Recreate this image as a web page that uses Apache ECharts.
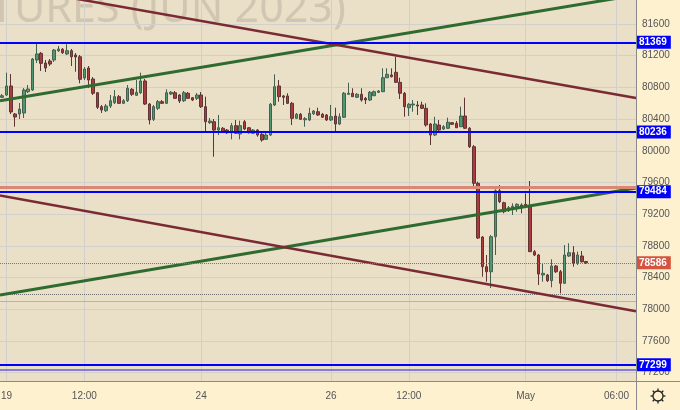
<!DOCTYPE html>
<html><head><meta charset="utf-8">
<script src="https://cdn.jsdelivr.net/npm/echarts@6/dist/echarts.min.js"></script>
<style>html,body{margin:0;padding:0;background:#fdf1d0;}#c{width:680px;height:410px;}</style>
</head><body><div id="c"></div>
<script>
// ---- data ----
const opens = [80675,80704,80818,80464,80464,80477,80746,80767,81146,81230,
81108,81133,81146,81263,81281,81222,81263,81209,81187,80919,
81045,80906,80733,80557,80506,80565,80607,80683,80599,80632,
80776,80700,80733,80881,80590,80397,80536,80620,80599,80717,
80733,80704,80632,80726,80670,80662,80704,80557,80355,80367,
80262,80284,80262,80228,80317,80212,80367,80291,80221,80262,
80208,80145,80199,80578,80818,80692,80692,80599,80410,80461,
80392,80389,80468,80493,80461,80452,80389,80439,80338,80423,
80713,80726,80675,80713,80662,80641,80695,80738,80746,80922,
80957,80991,80864,80726,80544,80578,80578,80578,80536,80338,
80199,80325,80275,80284,80355,80347,80304,80439,80284,80052,
79590,78912,78537,78474,78916,79496,79345,79244,79282,79294,
79316,79325,79294,78727,78685,78433,78433,78361,78546,78474,
78328,78672,78714,78580,78672,78603];
const closes = [80695,80818,80490,80426,80527,80767,80780,81158,81222,81104,
81045,81095,81272,81285,81238,81263,81187,81184,80902,81032,
80893,80726,80549,80515,80565,80632,80683,80599,80632,80789,
80713,80738,80881,80590,80389,80557,80620,80599,80733,80738,
80662,80628,80733,80662,80641,80704,80557,80367,80376,80262,
80291,80241,80228,80317,80221,80317,80275,80228,80262,80199,
80136,80199,80587,80809,80683,80675,80599,80410,80461,80397,
80405,80473,80502,80452,80423,80389,80430,80338,80430,80726,
80726,80683,80713,80641,80641,80738,80746,80755,80922,80965,
80935,80864,80726,80557,80587,80590,80565,80536,80325,80199,
80338,80262,80304,80360,80334,80291,80439,80284,80052,79590,
78899,78537,78474,78916,79496,79358,79231,79282,79300,79325,
79294,79303,78727,78685,78445,78454,78361,78546,78474,78328,
78685,78714,78580,78685,78600,78586];
const lows = [80666,80692,80464,80304,80401,80414,80729,80755,81108,81007,
80994,81070,81121,81247,81222,81209,81070,80998,80852,80893,
80792,80704,80527,80477,80490,80540,80590,80590,80590,80616,
80692,80692,80717,80578,80334,80376,80515,80590,80590,80704,
80654,80603,80616,80654,80628,80641,80540,80241,80338,79925,
80199,80225,80212,80145,80212,80145,80262,80218,80212,80178,
80115,80136,80187,80565,80620,80578,80590,80325,80401,80389,
80304,80376,80452,80439,80414,80376,80376,80250,80325,80414,
80704,80679,80666,80620,80590,80628,80692,80729,80742,80919,
80925,80856,80654,80430,80439,80493,80452,80527,80304,80073,
80187,80250,80262,80275,80325,80288,80300,80275,80035,79530,
78887,78411,78348,78268,78685,79341,79211,79228,79190,79231,
79211,79291,78723,78672,78306,78348,78344,78277,78458,78201,
78319,78660,78537,78559,78590,78571];
const highs = [80717,80986,80969,80477,80603,80792,80830,81171,81364,81247,
81146,81158,81285,81323,81297,81344,81285,81234,81209,81057,
81070,80931,80742,80578,80590,80704,80767,80704,80654,80830,
80792,80893,80986,80906,80603,80578,80641,80641,80776,80755,
80755,80717,80755,80742,80679,80729,80742,80683,80414,80401,
80452,80300,80275,80351,80389,80380,80389,80300,80275,80275,
80225,80250,80603,80965,80893,80704,80726,80616,80477,80477,
80426,80544,80515,80544,80477,80464,80578,80544,80473,80742,
80859,80789,80729,80789,80679,80755,80761,80767,81041,81041,
81041,81187,80922,80742,80603,80641,80628,80620,80599,80351,
80430,80389,80325,80418,80363,80376,80557,80670,80300,80073,
79610,78925,78685,78937,79514,79568,79358,79303,79337,79337,
79337,79463,79619,78748,78698,78580,78445,78631,78559,78496,
78811,78833,78798,78727,78735,78609];

const slotCount = 147;                 // candle slots incl. empty right margin
const xTickIndex = [1, 19, 46, 76, 94, 121, 142];
const xTickText  = ['19', '12:00', '24', '26', '12:00', 'May', '06:00'];
const yTicks = [77200,77600,78000,78400,78800,79200,79600,80000,80400,80800,81200,81600];
const yMin = 77095, yMax = 81903;

const levelLines = [81369, 80236, 79484, 77299];   // blue levels with tags
const lastPrice = 78586;
const salmonLevel = 79536;
const purpleLevel = 77240;
const greenThinLevel = 78105;
const dottedLevel = 78189;

const greenUpper = [[-0.5, 80632], [146.5, 81965]];
const greenLower = [[-0.5, 78180], [146.5, 79530]];
const redUpper   = [[-0.5, 82089], [146.5, 80665]];
const redLower   = [[-0.5, 79435], [146.5, 77974]];

// ---- chart ----
const chart = echarts.init(document.getElementById('c'), null, {renderer: 'canvas'});
const cats = Array.from({length: slotCount}, (_, i) => String(i));
const candles = opens.map((o, i) => [o, closes[i], lows[i], highs[i]]);
const FONT = 'Liberation Sans';

const gear = [];
for (let k = 0; k < 8; k++) {
  const a = k * Math.PI / 4;
  gear.push({type: 'line', shape: {x1: 658 + Math.cos(a) * 5, y1: 396 + Math.sin(a) * 5, x2: 658 + Math.cos(a) * 7.5, y2: 396 + Math.sin(a) * 7.5}, style: {stroke: '#222', lineWidth: 1.3}, silent: true});
}

const option = {
  animation: false,
  backgroundColor: '#fdf1d0',
  grid: {left: 0, top: 0, right: 44, bottom: 29, containLabel: false, outerBoundsMode: 'none'},
  graphic: [
    {type: 'rect', shape: {x: 0, y: 0, width: 636, height: 381}, style: {fill: '#eadfc7'}, z: -10, silent: true},
    {type: 'text', x: -10, y: 10, style: {text: 'TURES (JUN 2023)', font: '43px "Noto Sans"', fill: '#d1c6b1', verticalAlign: 'middle', align: 'left'}, z: -5, silent: true},
    {type: 'line', shape: {x1: 636.5, y1: 0, x2: 636.5, y2: 410}, style: {stroke: '#8a8a8a', lineWidth: 1}, z: 10, silent: true},
    {type: 'line', shape: {x1: 0, y1: 381.5, x2: 680, y2: 381.5}, style: {stroke: '#8a8a8a', lineWidth: 1}, z: 10, silent: true},
    {type: 'circle', shape: {cx: 658, cy: 396, r: 5}, style: {fill: 'none', stroke: '#222', lineWidth: 1.3}, z: 10, silent: true}
  ].concat(gear.map(g => Object.assign(g, {z: 10}))),
  xAxis: [
    {type: 'category', data: cats, boundaryGap: true,
      axisLine: {show: false}, axisTick: {show: false}, splitLine: {show: false},
      axisLabel: {interval: (idx) => xTickIndex.includes(idx), formatter: (v, idx) => {const k = xTickIndex.indexOf(Number(v)); return k >= 0 ? xTickText[k] : '';},
        color: '#555', fontSize: 10, fontFamily: FONT, margin: 10}},
    {type: 'value', min: -0.5, max: 146.5, show: false}
  ],
  yAxis: [{type: 'value', min: yMin, max: yMax, position: 'right', show: true,
    axisLine: {show: false}, axisTick: {show: false}, axisLabel: {show: false}, splitLine: {show: false}}],
  series: [
    {type: 'line', xAxisIndex: 1, data: [], silent: true,
      markLine: {z: 1, silent: true, symbol: ['none', 'none'], animation: false,
        lineStyle: {color: '#d3cfcc', width: 1, type: 'solid'},
        label: {show: false},
        data: xTickIndex.map(i => ({xAxis: i}))}},
    {type: 'line', xAxisIndex: 1, data: [], silent: true,
      markLine: {z: 1, silent: true, symbol: ['none', 'none'], animation: false,
        lineStyle: {color: '#d3cfcc', width: 1, type: 'solid'},
        label: {show: true, position: 'end', distance: 6, formatter: (p) => String(p.value), color: '#555', fontSize: 10, fontFamily: FONT},
        data: yTicks.map(v => ({yAxis: v}))}},
    {type: 'line', xAxisIndex: 1, data: [], silent: true,
      markLine: {z: 2, silent: true, symbol: ['none', 'none'], animation: false, label: {show: false},
        data: [
          {yAxis: greenThinLevel, lineStyle: {color: '#8ccb9a', width: 1, type: 'solid'}},
          {yAxis: dottedLevel, lineStyle: {color: '#6e6e6e', width: 1, type: 'dotted'}}
        ]}},
    {type: 'candlestick', xAxisIndex: 0, data: candles, barWidth: 3, z: 2,
      itemStyle: {color: '#4f9872', color0: '#ab3a3a', borderColor: '#44604f', borderColor0: '#5e3434', borderWidth: 1}},
    {type: 'line', xAxisIndex: 1, data: greenUpper, symbol: 'none', z: 3, clip: true, lineStyle: {color: '#2f6a2f', width: 3}},
    {type: 'line', xAxisIndex: 1, data: greenLower, symbol: 'none', z: 3, clip: true, lineStyle: {color: '#2f6a2f', width: 3}},
    {type: 'line', xAxisIndex: 1, data: redUpper, symbol: 'none', z: 3, clip: true, lineStyle: {color: '#7a2a33', width: 2.5}},
    {type: 'line', xAxisIndex: 1, data: redLower, symbol: 'none', z: 3, clip: true, lineStyle: {color: '#7a2a33', width: 2.5}},
    {type: 'line', xAxisIndex: 1, data: [], silent: true,
      markLine: {z: 6, silent: true, symbol: ['none', 'none'], animation: false,
        data: [
          {yAxis: salmonLevel, lineStyle: {color: '#d98878', width: 3, type: 'solid'}, label: {show: false}},
          {yAxis: purpleLevel, lineStyle: {color: '#6a5fd0', width: 1.5, type: 'solid'}, label: {show: false}},
          {yAxis: lastPrice, lineStyle: {color: '#d5533f', width: 1, type: 'dotted'},
            label: {show: true, position: 'end', distance: 0, formatter: String(lastPrice), color: '#fff', backgroundColor: '#d5533f', fontSize: 10, fontWeight: 'bold', fontFamily: FONT, padding: [2, 4, 1, 3]}}
        ].concat(levelLines.map(v => ({yAxis: v, lineStyle: {color: '#0000ff', width: 2, type: 'solid'},
            label: {show: true, position: 'end', distance: 0, formatter: String(v), color: '#fff', backgroundColor: '#0000ff', fontSize: 10, fontWeight: 'bold', fontFamily: FONT, padding: [2, 4, 1, 3]}})))}}
  ]
};
chart.setOption(option);
</script></body></html>
